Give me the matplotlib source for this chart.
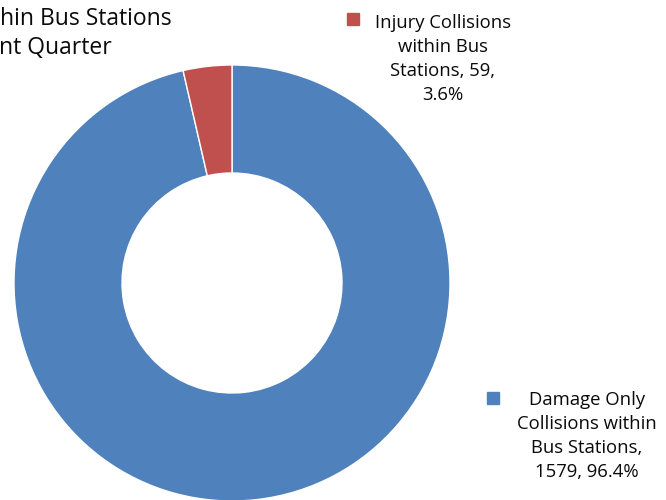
import matplotlib
matplotlib.use("Agg")
import matplotlib.pyplot as plt

plt.rcParams['font.family'] = ['Open Sans', 'DejaVu Sans']

values = [1579, 59]
percents = ["96.4%", "3.6%"]
colors = ["#4F81BD", "#C0504D"]
title_lines = ["hin Bus Stations", "nt Quarter"]

fig = plt.figure(figsize=(6.66, 5), dpi=100)
ax = fig.add_axes([0, 0, 1, 1])

# donut, drawn in pixel units (y up)
ax.pie(values, colors=colors, startangle=90, counterclock=False,
       radius=218, center=(232, 217),
       wedgeprops=dict(width=108, edgecolor="white", linewidth=1))

# labels with legend squares
damage_label = f"Damage Only\nCollisions within\nBus Stations,\n{values[0]}, {percents[0]}"
injury_label = f"Injury Collisions\nwithin Bus\nStations, {values[1]},\n{percents[1]}"

ax.plot(353, 481, marker="s", markersize=8.6, color=colors[1], linestyle="none")
ax.text(443, 441, injury_label, ha="center", va="center", multialignment="center",
        fontsize=13.3, linespacing=1.43, color="#0a0a0a")

ax.plot(493, 102, marker="s", markersize=8.6, color=colors[0], linestyle="none")
ax.text(587, 64, damage_label, ha="center", va="center", multialignment="center",
        fontsize=13.3, linespacing=1.43, color="#0a0a0a")

# title (cut off at the left edge)
ax.text(172, 481, title_lines[0], ha="right", va="center", fontsize=16.5, color="#0a0a0a")
ax.text(112, 452, title_lines[1], ha="right", va="center", fontsize=16.5, color="#0a0a0a")

ax.set_xlim(0, 666)
ax.set_ylim(0, 500)
ax.set_aspect("equal")
ax.axis("off")

fig.savefig("out.png", dpi=100)
